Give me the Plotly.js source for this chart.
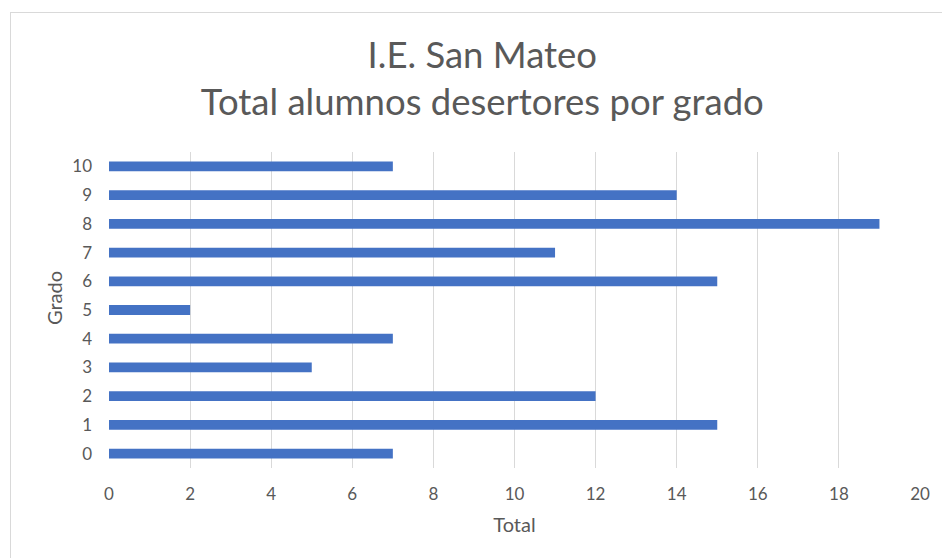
<!DOCTYPE html>
<html>
<head>
<meta charset="utf-8">
<script src="https://cdn.plot.ly/plotly-3.0.1.min.js"></script>
<style>
html,body{margin:0;padding:0;background:#fff;}
#wrap{position:relative;width:942px;height:558px;overflow:hidden;}
#chart{width:942px;height:558px;}
#frame{position:absolute;left:10px;top:12px;width:960px;height:600px;border:1.5px solid #d9d9d9;pointer-events:none;}
</style>
</head>
<body>
<div id="wrap"><div id="chart"></div><div id="frame"></div></div>
<script>
const grados = ['0','1','2','3','4','5','6','7','8','9','10'];
const totales = [7, 15, 12, 5, 7, 2, 15, 11, 19, 14, 7];
const xTicks = [0,2,4,6,8,10,12,14,16,18,20];
const chartTitle = 'I.E. San Mateo<br>Total alumnos desertores por grado';
const xTitle = 'Total';
const yTitle = 'Grado';

const FONT = 'Lato, "Open Sans", sans-serif';
const GREY = '#595959';

Plotly.newPlot('chart', [{
  type: 'bar',
  orientation: 'h',
  x: totales,
  y: grados,
  width: 0.34,
  marker: {color: '#4472C4'},
  hoverinfo: 'x+y'
}], {
  width: 942, height: 558,
  margin: {l: 109, r: 22, t: 152, b: 90},
  paper_bgcolor: '#fff', plot_bgcolor: '#fff',
  showlegend: false,
  title: {
    text: chartTitle,
    font: {family: FONT, size: 36.5, color: GREY},
    x: 0.512, xanchor: 'center',
    yref: 'container',
    y: 1 - 68/558, yanchor: 'middle'
  },
  xaxis: {
    range: [0, 20],
    tickvals: xTicks,
    ticktext: xTicks.map(String),
    showgrid: true, gridcolor: '#d9d9d9', gridwidth: 1,
    zeroline: false, showline: false,
    ticks: '', ticklabelstandoff: 14,
    tickfont: {family: FONT, size: 17, color: GREY},
    title: {text: xTitle, font: {family: FONT, size: 20, color: GREY}, standoff: 14},
    fixedrange: true
  },
  yaxis: {
    type: 'category',
    categoryorder: 'array', categoryarray: grados,
    showgrid: false, zeroline: false, showline: false,
    ticks: '', ticklabelstandoff: 16,
    tickfont: {family: FONT, size: 17, color: GREY},
    fixedrange: true
  },
  annotations: [{
    text: yTitle,
    xref: 'paper', yref: 'paper',
    x: -(109 - 54) / 811, xanchor: 'center',
    y: (468 - 298) / 316, yanchor: 'middle',
    textangle: -90, showarrow: false,
    font: {family: FONT, size: 20, color: GREY}
  }]
}, {displayModeBar: false, staticPlot: true});
</script>
</body>
</html>
